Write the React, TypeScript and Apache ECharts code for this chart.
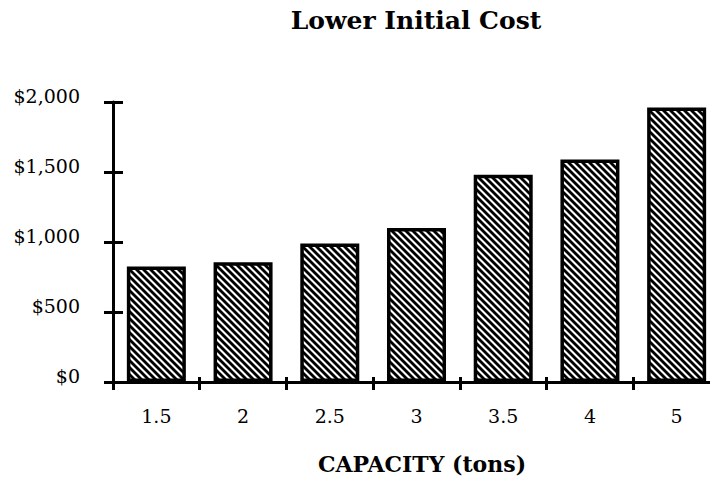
import React, { useEffect, useRef } from "react";
import * as echarts from "echarts";

const categories = ["1.5", "2", "2.5", "3", "3.5", "4", "5"];
const costValues = [825, 855, 990, 1100, 1480, 1590, 1960];
const yTicks = [0, 500, 1000, 1500, 2000];
const titleText = "Lower Initial Cost";
const xAxisName = "CAPACITY (tons)";

function makeHatch(): { src: string; size: number } {
  const size = 7;
  const c = document.createElement("canvas");
  c.width = size;
  c.height = size;
  const ctx = c.getContext("2d")!;
  ctx.fillStyle = "#ffffff";
  ctx.fillRect(0, 0, size, size);
  ctx.strokeStyle = "#000000";
  ctx.lineWidth = 2.8;
  for (const k of [-size, 0, size]) {
    ctx.beginPath();
    ctx.moveTo(k - 1, -1);
    ctx.lineTo(k + size + 1, size + 1);
    ctx.stroke();
  }
  return { src: c.toDataURL(), size };
}

export default function App() {
  const ref = useRef<HTMLDivElement>(null);
  useEffect(() => {
    if (!ref.current) return;
    const chart = echarts.init(ref.current, null, { renderer: "svg" });
    const hatch = makeHatch();
    const serif = "DejaVu Serif";
    const fmt = (v: number) => "$" + v.toLocaleString("en-US");
    chart.setOption({
      animation: false,
      backgroundColor: "#ffffff",
      grid: { left: 113, top: 102, width: 607, bottom: 99, containLabel: false },
      graphic: [
        {
          type: "text",
          x: 416,
          y: 20,
          style: { text: titleText, font: `bold 25px "${serif}"`, fill: "#000", align: "center", verticalAlign: "middle" },
        },
        {
          type: "text",
          x: 422,
          y: 464,
          style: { text: xAxisName, font: `bold 22px "${serif}"`, fill: "#000", align: "center", verticalAlign: "middle" },
        },
      ],
      xAxis: [
        {
          type: "category",
          data: categories,
          position: "bottom",
          axisLine: { show: true, lineStyle: { color: "#000", width: 3 } },
          axisTick: { show: true, inside: false, length: 8, lineStyle: { color: "#000", width: 3 } },
          axisLabel: { color: "#000", fontFamily: serif, fontSize: 19, margin: 24 },
          splitLine: { show: false },
        },
        {
          type: "category",
          data: categories,
          position: "bottom",
          axisLine: { show: false },
          axisTick: { show: true, inside: true, length: 5, lineStyle: { color: "#000", width: 3 } },
          axisLabel: { show: false },
          splitLine: { show: false },
        },
      ],
      yAxis: [
        {
          type: "value",
          min: yTicks[0],
          max: yTicks[yTicks.length - 1],
          interval: 500,
          axisLine: { show: true, lineStyle: { color: "#000", width: 3 } },
          axisTick: { show: true, inside: false, length: 9, lineStyle: { color: "#000", width: 3 } },
          axisLabel: {
            color: "#000",
            fontFamily: serif,
            fontSize: 19,
            margin: 33,
            verticalAlign: "bottom",
            lineHeight: 12,
            formatter: fmt,
          },
          splitLine: { show: false },
        },
        {
          type: "value",
          position: "left",
          min: yTicks[0],
          max: yTicks[yTicks.length - 1],
          interval: 500,
          axisLine: { show: false },
          axisTick: { show: true, inside: true, length: 10, lineStyle: { color: "#000", width: 3 } },
          axisLabel: { show: false },
          splitLine: { show: false },
        },
      ],
      series: [
        {
          type: "bar",
          data: costValues,
          xAxisIndex: 0,
          yAxisIndex: 0,
          barWidth: 59,
          itemStyle: {
            color: { image: hatch.src, repeat: "repeat", imageWidth: hatch.size, imageHeight: hatch.size },
            borderColor: "#000",
            borderWidth: 3.5,
          },
        },
      ],
    });
    return () => chart.dispose();
  }, []);
  return (
    <div
      ref={ref}
      style={{ position: "fixed", left: 0, top: 0, width: 730, height: 481, background: "#fff" }}
    />
  );
}
